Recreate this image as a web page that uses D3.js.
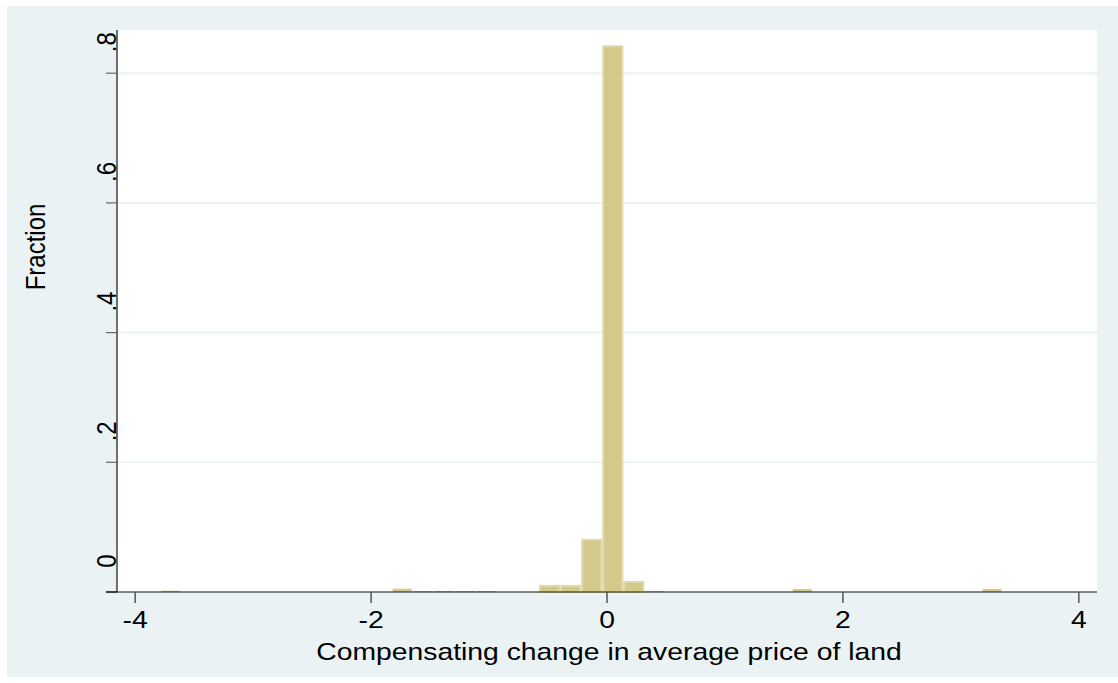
<!DOCTYPE html>
<html>
<head>
<meta charset="utf-8">
<script src="https://cdn.jsdelivr.net/npm/d3@7"></script>
<style>
  body { margin: 0; background: #ffffff; }
  text { font-family: "Liberation Sans", Arial, sans-serif; fill: #000; }
</style>
</head>
<body>
<script>
// histogram data (left edge of each bin, fraction of obs)
var binLeft = [-3.789, -1.825, -1.647, -1.468, -1.290, -1.111, -0.576, -0.397, -0.219, -0.040, 0.138, 0.317, 1.566, 3.173];
var fraction = [0.002, 0.005, 0.0015, 0.0015, 0.0015, 0.0015, 0.011, 0.011, 0.082, 0.843, 0.017, 0.0015, 0.0046, 0.0046];
const binWidth = 0.1785;
var xTicks = [-4, -2, 0, 2, 4];
var yTicks = [0, 0.2, 0.4, 0.6, 0.8];
var yTickLabels = ["0", ".2", ".4", ".6", ".8"];

const W = 1118, H = 683;
const plot = {left: 117, right: 1097, top: 30, bottom: 592};
const stretch = 1.18; // text looks horizontally stretched in the original

const svg = d3.select("body")
    .append("svg")
    .attr("width", W)
    .attr("height", H);

// outer (graph region) background
svg.append("rect")
    .attr("x", 7).attr("y", 6)
    .attr("width", W - 7).attr("height", 671)
    .attr("fill", "#eaf2f3");

// plot region
svg.append("rect")
    .attr("x", plot.left).attr("y", plot.top)
    .attr("width", plot.right - plot.left).attr("height", plot.bottom - plot.top)
    .attr("fill", "#ffffff");

var x = d3.scaleLinear().domain([-4.154, 4.154]).range([plot.left, plot.right]);
var y = d3.scaleLinear().domain([0, 0.8666]).range([plot.bottom, plot.top]);

// gridlines
svg.append("g").selectAll("line")
    .data(yTicks.filter(d => d > 0))
    .enter().append("line")
    .attr("x1", plot.left).attr("x2", plot.right)
    .attr("y1", d => y(d)).attr("y2", d => y(d))
    .attr("stroke", "#eaf2f3")
    .attr("stroke-width", 2);

// bars
var bars = binLeft.map((b, i) => ({x0: b, x1: b + binWidth, v: fraction[i]}));
svg.append("g").selectAll("rect")
    .data(bars)
    .enter().append("rect")
    .attr("x", d => x(d.x0) + 1)
    .attr("width", d => x(d.x1) - x(d.x0) - 2)
    .attr("y", d => (y(0) - y(d.v)) > 6 ? y(d.v) + 1 : y(d.v))
    .attr("height", d => (y(0) - y(d.v)) > 6 ? y(0) - y(d.v) - 1 : Math.max(1, y(0) - y(d.v)))
    .attr("fill", "#d2c98b")
    .attr("stroke", "#e0d9a9")
    .attr("stroke-width", d => (y(0) - y(d.v)) > 6 ? 2 : 0);

// y axis
svg.append("line")
    .attr("x1", plot.left).attr("x2", plot.left)
    .attr("y1", plot.top).attr("y2", plot.bottom)
    .attr("stroke", "#111").attr("stroke-width", 1.2);

svg.append("g").selectAll("line")
    .data(yTicks)
    .enter().append("line")
    .attr("x1", plot.left - 11).attr("x2", plot.left)
    .attr("y1", d => y(d)).attr("y2", d => y(d))
    .attr("stroke", d => d === 0 ? "#111" : "#666")
    .attr("stroke-width", 1.2);

svg.append("g").selectAll("text")
    .data(yTicks)
    .enter().append("text")
    .attr("transform", d => "translate(116," + (y(d) - 31) + ") scale(" + stretch + ",1) rotate(-90)")
    .attr("text-anchor", "middle")
    .attr("font-size", "24px")
    .text((d, i) => yTickLabels[i]);

svg.append("text")
    .attr("transform", "translate(45,247) scale(" + stretch + ",1) rotate(-90)")
    .attr("text-anchor", "middle")
    .attr("font-size", "24px")
    .text("Fraction");

// x axis
svg.append("line")
    .attr("x1", plot.left - 11).attr("x2", plot.right)
    .attr("y1", plot.bottom).attr("y2", plot.bottom)
    .attr("stroke", "#111").attr("stroke-width", 1.2);

svg.append("g").selectAll("line")
    .data(xTicks)
    .enter().append("line")
    .attr("x1", d => x(d)).attr("x2", d => x(d))
    .attr("y1", plot.bottom).attr("y2", plot.bottom + 11)
    .attr("stroke", "#555")
    .attr("stroke-width", 1.5);

svg.append("g").selectAll("text")
    .data(xTicks)
    .enter().append("text")
    .attr("transform", d => "translate(" + x(d) + ",628) scale(" + stretch + ",1)")
    .attr("text-anchor", "middle")
    .attr("font-size", "24px")
    .text(d => d);

svg.append("text")
    .attr("transform", "translate(609,660) scale(" + stretch + ",1)")
    .attr("text-anchor", "middle")
    .attr("font-size", "24px")
    .text("Compensating change in average price of land");
</script>
</body>
</html>
